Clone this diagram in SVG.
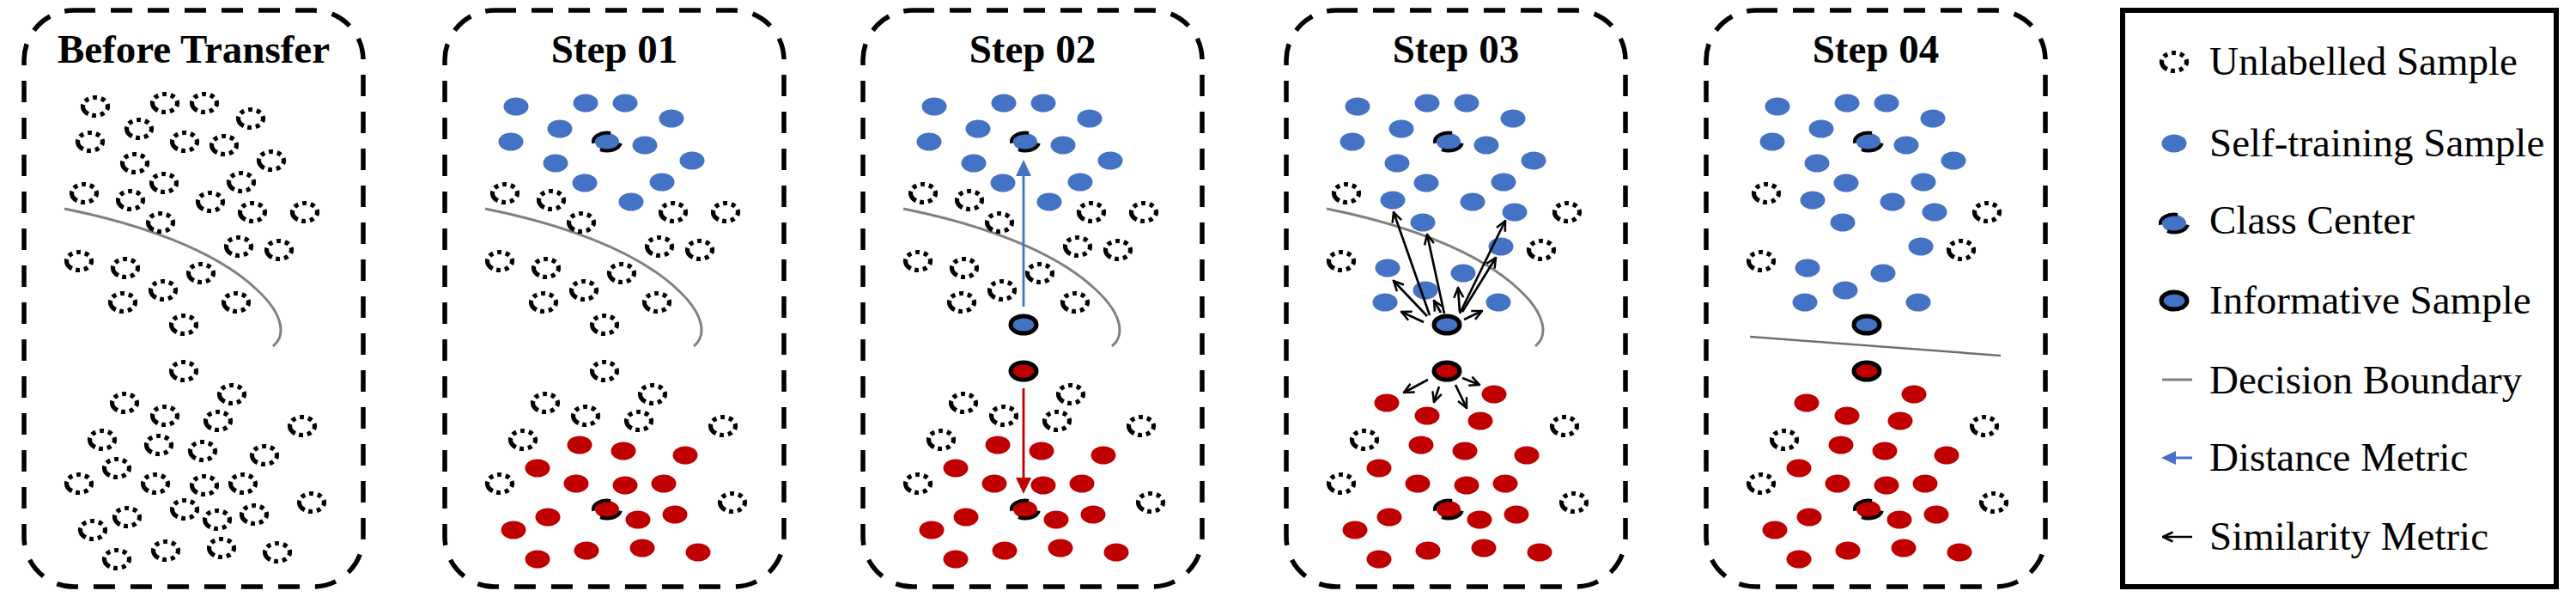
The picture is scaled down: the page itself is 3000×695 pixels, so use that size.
<svg xmlns="http://www.w3.org/2000/svg" width="3000" height="695" viewBox="0 0 3000 695">
<style>
.box{fill:none;stroke:#000;stroke-width:5.5;stroke-dasharray:25 18}
.title{font-family:"Liberation Serif","Times New Roman",serif;font-size:47px;font-weight:bold;text-anchor:middle;fill:#000}
.lt{font-family:"Liberation Serif","Times New Roman",serif;font-size:47px;fill:#000}
.bd{fill:none;stroke:#808080;stroke-width:3}
.sim{fill:none;stroke:#000;stroke-width:2.7;marker-end:url(#oa)}
</style>
<defs>
<ellipse id="u" rx="14.5" ry="10.5" pathLength="80" fill="none" stroke="#000" stroke-width="5.2" stroke-dasharray="4 5 5 5 5 4.5 14 4.5 5 5 5 5 5 5 3 0"/>
<ellipse id="b" rx="14.5" ry="10.5" fill="#4472C4"/>
<ellipse id="r" rx="14.5" ry="10.5" fill="#C00000"/>
<g id="cb"><ellipse rx="14" ry="10" fill="#4472C4"/><path d="M-15.8,1.8 A16,10.5 0 0 1 4.1,-10.1 M15.8,1.8 A16,10.5 0 0 1 -8,9.1" fill="none" stroke="#000" stroke-width="4"/></g>
<g id="cr"><ellipse rx="14" ry="10" fill="#C00000"/><path d="M-15.8,1.8 A16,10.5 0 0 1 4.1,-10.1 M15.8,1.8 A16,10.5 0 0 1 -8,9.1" fill="none" stroke="#000" stroke-width="4"/></g>
<ellipse id="ib" rx="15" ry="10" fill="#4472C4" stroke="#000" stroke-width="5"/>
<ellipse id="ir" rx="15" ry="10" fill="#C00000" stroke="#000" stroke-width="5"/>
<path id="curve" d="M565,243 C650,260 740,290 790,338 C822,368 822,392 808,403"/>
<rect id="frame" x="518" y="12" width="395" height="671" rx="58" ry="58"/>
<marker id="oa" viewBox="0 0 14 14" refX="12.5" refY="7" markerWidth="14" markerHeight="14" markerUnits="userSpaceOnUse" orient="auto">
<path d="M1,1.5 L12.5,7 L1,12.5" fill="none" stroke="#000" stroke-width="2.5"/>
</marker>
</defs>
<rect width="3000" height="695" fill="#fff"/>

<!-- Panel 1: Before Transfer -->
<g id="panel-before" transform="translate(-490,0)">
<use href="#frame" class="box"/>
<text class="title" x="715.5" y="73">Before Transfer</text>
<use href="#curve" class="bd"/>
<g id="p1-samples">
<use href="#u" x="601" y="124"/><use href="#u" x="682" y="120"/><use href="#u" x="728" y="120"/><use href="#u" x="782" y="138"/>
<use href="#u" x="652" y="150"/><use href="#u" x="595" y="165"/><use href="#u" x="705" y="165"/><use href="#u" x="751" y="169"/>
<use href="#u" x="806" y="187"/><use href="#u" x="647" y="190"/><use href="#u" x="681" y="213"/><use href="#u" x="771" y="212"/>
<use href="#u" x="588" y="225"/><use href="#u" x="642" y="233"/><use href="#u" x="735" y="235"/><use href="#u" x="784" y="247"/>
<use href="#u" x="845" y="247"/><use href="#u" x="677" y="259"/><use href="#u" x="768" y="287"/><use href="#u" x="815" y="291"/>
<use href="#u" x="582" y="304"/><use href="#u" x="636" y="312"/><use href="#u" x="724" y="318"/><use href="#u" x="680" y="338"/>
<use href="#u" x="633" y="352"/><use href="#u" x="765" y="352"/><use href="#u" x="704" y="378"/>
<use href="#u" x="704" y="432"/><use href="#u" x="760" y="459"/><use href="#u" x="635" y="469"/><use href="#u" x="682" y="484"/>
<use href="#u" x="744" y="490"/><use href="#u" x="842" y="496"/><use href="#u" x="609" y="512"/><use href="#u" x="675" y="518"/>
<use href="#u" x="726" y="525"/><use href="#u" x="798" y="530"/><use href="#u" x="626" y="545"/><use href="#u" x="582" y="563"/>
<use href="#u" x="671" y="563"/><use href="#u" x="728" y="565"/><use href="#u" x="773" y="563"/><use href="#u" x="853" y="585"/>
<use href="#u" x="705" y="593"/><use href="#u" x="638" y="602"/><use href="#u" x="743" y="605"/><use href="#u" x="786" y="599"/>
<use href="#u" x="598" y="617"/><use href="#u" x="683" y="641"/><use href="#u" x="748" y="638"/><use href="#u" x="626" y="651"/>
<use href="#u" x="813" y="643"/>
</g>
</g>

<!-- Panel 2: Step 01 -->
<g id="panel-step01">
<use href="#frame" class="box"/>
<text class="title" x="715.5" y="73">Step 01</text>
<use href="#curve" class="bd"/>
<g id="p2-blue">
<use href="#b" x="601" y="124"/><use href="#b" x="682" y="120"/><use href="#b" x="728" y="120"/><use href="#b" x="782" y="138"/>
<use href="#b" x="652" y="150"/><use href="#b" x="595" y="165"/><use href="#b" x="751" y="169"/><use href="#b" x="806" y="187"/>
<use href="#b" x="647" y="190"/><use href="#b" x="681" y="213"/><use href="#b" x="771" y="212"/><use href="#b" x="735" y="235"/>
<use href="#cb" x="707" y="165"/>
</g>
<g id="p2-unlabelled">
<use href="#u" x="588" y="225"/><use href="#u" x="642" y="233"/><use href="#u" x="784" y="247"/><use href="#u" x="845" y="247"/>
<use href="#u" x="677" y="259"/><use href="#u" x="768" y="287"/><use href="#u" x="815" y="291"/><use href="#u" x="582" y="304"/>
<use href="#u" x="636" y="312"/><use href="#u" x="724" y="318"/><use href="#u" x="680" y="338"/><use href="#u" x="633" y="352"/>
<use href="#u" x="765" y="352"/><use href="#u" x="704" y="378"/>
<use href="#u" x="704" y="432"/><use href="#u" x="760" y="459"/><use href="#u" x="635" y="469"/><use href="#u" x="682" y="484"/>
<use href="#u" x="744" y="490"/><use href="#u" x="842" y="496"/><use href="#u" x="609" y="512"/><use href="#u" x="582" y="563"/>
<use href="#u" x="853" y="585"/>
</g>
<g id="p2-red">
<use href="#r" x="675" y="518"/><use href="#r" x="726" y="525"/><use href="#r" x="798" y="530"/><use href="#r" x="626" y="545"/>
<use href="#r" x="671" y="563"/><use href="#r" x="728" y="565"/><use href="#r" x="773" y="563"/><use href="#r" x="638" y="602"/>
<use href="#r" x="743" y="605"/><use href="#r" x="786" y="599"/><use href="#r" x="598" y="617"/><use href="#r" x="683" y="641"/>
<use href="#r" x="748" y="638"/><use href="#r" x="626" y="651"/><use href="#r" x="813" y="643"/>
<use href="#cr" x="707" y="593"/>
</g>
</g>

<!-- Panel 3: Step 02 -->
<g id="panel-step02" transform="translate(487,0)">
<use href="#frame" class="box"/>
<text class="title" x="715.5" y="73">Step 02</text>
<use href="#curve" class="bd"/>
<g id="p3-blue">
<use href="#b" x="601" y="124"/><use href="#b" x="682" y="120"/><use href="#b" x="728" y="120"/><use href="#b" x="782" y="138"/>
<use href="#b" x="652" y="150"/><use href="#b" x="595" y="165"/><use href="#b" x="751" y="169"/><use href="#b" x="806" y="187"/>
<use href="#b" x="647" y="190"/><use href="#b" x="681" y="213"/><use href="#b" x="771" y="212"/><use href="#b" x="735" y="235"/>
<use href="#cb" x="707" y="165"/>
</g>
<g id="p3-unlabelled">
<use href="#u" x="588" y="225"/><use href="#u" x="642" y="233"/><use href="#u" x="784" y="247"/><use href="#u" x="845" y="247"/>
<use href="#u" x="677" y="259"/><use href="#u" x="768" y="287"/><use href="#u" x="815" y="291"/><use href="#u" x="582" y="304"/>
<use href="#u" x="636" y="312"/><use href="#u" x="724" y="318"/><use href="#u" x="680" y="338"/><use href="#u" x="633" y="352"/>
<use href="#u" x="765" y="352"/>
<use href="#u" x="760" y="459"/><use href="#u" x="635" y="469"/><use href="#u" x="682" y="484"/>
<use href="#u" x="744" y="490"/><use href="#u" x="842" y="496"/><use href="#u" x="609" y="512"/><use href="#u" x="582" y="563"/>
<use href="#u" x="853" y="585"/>
</g>
<g id="p3-red">
<use href="#r" x="675" y="518"/><use href="#r" x="726" y="525"/><use href="#r" x="798" y="530"/><use href="#r" x="626" y="545"/>
<use href="#r" x="671" y="563"/><use href="#r" x="728" y="565"/><use href="#r" x="773" y="563"/><use href="#r" x="638" y="602"/>
<use href="#r" x="743" y="605"/><use href="#r" x="786" y="599"/><use href="#r" x="598" y="617"/><use href="#r" x="683" y="641"/>
<use href="#r" x="748" y="638"/><use href="#r" x="626" y="651"/><use href="#r" x="813" y="643"/>
<use href="#cr" x="707" y="593"/>
</g>
<g id="p3-informative">
<use href="#ib" x="705" y="378"/>
<use href="#ir" x="705" y="432"/>
</g>
<g id="p3-connectors">
<line x1="705" y1="357" x2="705" y2="200" stroke="#4472C4" stroke-width="2.8"/>
<polygon points="705,186 696,205 714,205" fill="#4472C4"/>
<line x1="705" y1="452" x2="705" y2="561" stroke="#C00000" stroke-width="2.8"/>
<polygon points="705,575 696,556 714,556" fill="#C00000"/>
</g>
</g>

<!-- Panel 4: Step 03 -->
<g id="panel-step03" transform="translate(980,0)">
<use href="#frame" class="box"/>
<text class="title" x="715.5" y="73">Step 03</text>
<use href="#curve" class="bd"/>
<g id="p4-blue">
<use href="#b" x="601" y="124"/><use href="#b" x="682" y="120"/><use href="#b" x="728" y="120"/><use href="#b" x="782" y="138"/>
<use href="#b" x="652" y="150"/><use href="#b" x="595" y="165"/><use href="#b" x="751" y="169"/><use href="#b" x="806" y="187"/>
<use href="#b" x="647" y="190"/><use href="#b" x="681" y="213"/><use href="#b" x="771" y="212"/><use href="#b" x="735" y="235"/>
<use href="#b" x="642" y="233"/><use href="#b" x="784" y="247"/><use href="#b" x="677" y="259"/><use href="#b" x="768" y="287"/>
<use href="#b" x="636" y="312"/><use href="#b" x="724" y="318"/><use href="#b" x="680" y="338"/><use href="#b" x="633" y="352"/>
<use href="#b" x="765" y="352"/>
<use href="#cb" x="707" y="165"/>
</g>
<g id="p4-unlabelled">
<use href="#u" x="588" y="225"/><use href="#u" x="845" y="247"/><use href="#u" x="815" y="291"/><use href="#u" x="582" y="304"/>
<use href="#u" x="842" y="496"/><use href="#u" x="609" y="512"/><use href="#u" x="582" y="563"/><use href="#u" x="853" y="585"/>
</g>
<g id="p4-red">
<use href="#r" x="760" y="459"/><use href="#r" x="635" y="469"/><use href="#r" x="682" y="484"/><use href="#r" x="744" y="490"/>
<use href="#r" x="675" y="518"/><use href="#r" x="726" y="525"/><use href="#r" x="798" y="530"/><use href="#r" x="626" y="545"/>
<use href="#r" x="671" y="563"/><use href="#r" x="728" y="565"/><use href="#r" x="773" y="563"/><use href="#r" x="638" y="602"/>
<use href="#r" x="743" y="605"/><use href="#r" x="786" y="599"/><use href="#r" x="598" y="617"/><use href="#r" x="683" y="641"/>
<use href="#r" x="748" y="638"/><use href="#r" x="626" y="651"/><use href="#r" x="813" y="643"/>
<use href="#cr" x="707" y="593"/>
</g>
<g id="p4-informative">
<use href="#ib" x="705" y="378"/>
<use href="#ir" x="705" y="432"/>
</g>
<g id="p4-connectors">
<line class="sim" x1="685" y1="367" x2="643" y2="247"/>
<line class="sim" x1="702" y1="365" x2="682" y2="273"/>
<line class="sim" x1="720" y1="365" x2="773" y2="257"/>
<line class="sim" x1="723" y1="363" x2="762" y2="300"/>
<line class="sim" x1="682" y1="368" x2="643" y2="327"/>
<line class="sim" x1="678" y1="375" x2="652" y2="363"/>
<line class="sim" x1="698" y1="364" x2="690" y2="350"/>
<line class="sim" x1="720" y1="363" x2="718" y2="335"/>
<line class="sim" x1="725" y1="372" x2="746" y2="362"/>
<line class="sim" x1="683" y1="442" x2="655" y2="457"/>
<line class="sim" x1="696" y1="450" x2="690" y2="468"/>
<line class="sim" x1="715" y1="448" x2="728" y2="475"/>
<line class="sim" x1="723" y1="440" x2="743" y2="448"/>
</g>
</g>

<!-- Panel 5: Step 04 -->
<g id="panel-step04" transform="translate(1469,0)">
<use href="#frame" class="box"/>
<text class="title" x="715.5" y="73">Step 04</text>
<line x1="569" y1="392" x2="861" y2="414" stroke="#707070" stroke-width="2.5"/>
<g id="p5-blue">
<use href="#b" x="601" y="124"/><use href="#b" x="682" y="120"/><use href="#b" x="728" y="120"/><use href="#b" x="782" y="138"/>
<use href="#b" x="652" y="150"/><use href="#b" x="595" y="165"/><use href="#b" x="751" y="169"/><use href="#b" x="806" y="187"/>
<use href="#b" x="647" y="190"/><use href="#b" x="681" y="213"/><use href="#b" x="771" y="212"/><use href="#b" x="735" y="235"/>
<use href="#b" x="642" y="233"/><use href="#b" x="784" y="247"/><use href="#b" x="677" y="259"/><use href="#b" x="768" y="287"/>
<use href="#b" x="636" y="312"/><use href="#b" x="724" y="318"/><use href="#b" x="680" y="338"/><use href="#b" x="633" y="352"/>
<use href="#b" x="765" y="352"/>
<use href="#cb" x="707" y="165"/>
</g>
<g id="p5-unlabelled">
<use href="#u" x="588" y="225"/><use href="#u" x="845" y="247"/><use href="#u" x="815" y="291"/><use href="#u" x="582" y="304"/>
<use href="#u" x="842" y="496"/><use href="#u" x="609" y="512"/><use href="#u" x="582" y="563"/><use href="#u" x="853" y="585"/>
</g>
<g id="p5-red">
<use href="#r" x="760" y="459"/><use href="#r" x="635" y="469"/><use href="#r" x="682" y="484"/><use href="#r" x="744" y="490"/>
<use href="#r" x="675" y="518"/><use href="#r" x="726" y="525"/><use href="#r" x="798" y="530"/><use href="#r" x="626" y="545"/>
<use href="#r" x="671" y="563"/><use href="#r" x="728" y="565"/><use href="#r" x="773" y="563"/><use href="#r" x="638" y="602"/>
<use href="#r" x="743" y="605"/><use href="#r" x="786" y="599"/><use href="#r" x="598" y="617"/><use href="#r" x="683" y="641"/>
<use href="#r" x="748" y="638"/><use href="#r" x="626" y="651"/><use href="#r" x="813" y="643"/>
<use href="#cr" x="707" y="593"/>
</g>
<g id="p5-informative">
<use href="#ib" x="705" y="378"/>
<use href="#ir" x="705" y="432"/>
</g>
</g>

<!-- Legend -->
<g id="legend">
<rect x="2472" y="12" width="505" height="671" fill="none" stroke="#000" stroke-width="6"/>
<g id="lg-unlabelled"><use href="#u" x="2532" y="72"/><text class="lt" x="2573" y="87">Unlabelled Sample</text></g>
<g id="lg-self"><use href="#b" x="2532" y="167"/><text class="lt" x="2573" y="182">Self-training Sample</text></g>
<g id="lg-center"><use href="#cb" x="2532" y="260"/><text class="lt" x="2573" y="272">Class Center</text></g>
<g id="lg-informative"><use href="#ib" x="2532" y="350"/><text class="lt" x="2573" y="365">Informative Sample</text></g>
<g id="lg-boundary"><line x1="2518" y1="442" x2="2553" y2="442" stroke="#808080" stroke-width="3"/><text class="lt" x="2573" y="458">Decision Boundary</text></g>
<g id="lg-distance"><line x1="2553" y1="533" x2="2530" y2="533" stroke="#4472C4" stroke-width="3"/><polygon points="2517,533 2534,525 2534,541" fill="#4472C4"/><text class="lt" x="2573" y="548">Distance Metric</text></g>
<g id="lg-similarity"><line class="sim" x1="2553" y1="625" x2="2519" y2="625"/><text class="lt" x="2573" y="640">Similarity Metric</text></g>
</g>
</svg>
